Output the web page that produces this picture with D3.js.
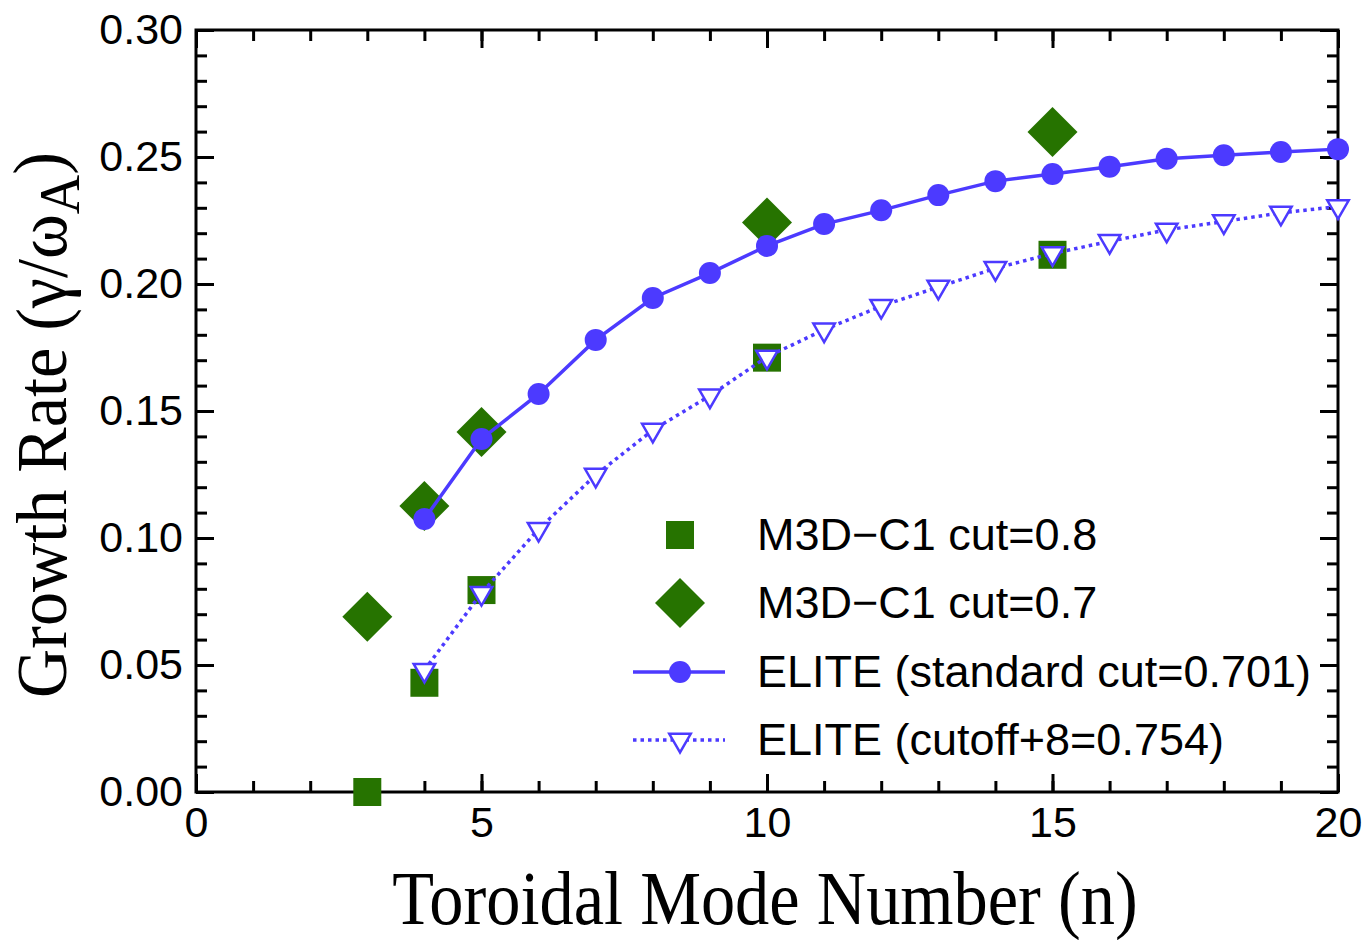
<!DOCTYPE html>
<html>
<head>
<meta charset="utf-8">
<script src="https://cdnjs.cloudflare.com/ajax/libs/d3/7.8.5/d3.min.js"></script>
<style>
  body { margin: 0; background: #fff; }
  svg { display: block; }
</style>
</head>
<body>
<script>
// data
var eliteN = [4, 5, 6, 7, 8, 9, 10, 11, 12, 13, 14, 15, 16, 17, 18, 19, 20];
var eliteStd = [0.1075, 0.139, 0.1567, 0.178, 0.1945, 0.2043, 0.215, 0.2236, 0.229, 0.235,
                0.2405, 0.2433, 0.2462, 0.2493, 0.2507, 0.252, 0.2531];
var eliteCut8 = [0.048, 0.0783, 0.1035, 0.1248, 0.1425, 0.156, 0.1713, 0.182, 0.1913, 0.1988,
                 0.2062, 0.212, 0.2168, 0.2213, 0.2246, 0.228, 0.2305];
var m3dN = [3, 4, 5, 10, 15];
var m3dCut08 = [0.0, 0.043, 0.0795, 0.171, 0.2115];
var m3dCut07 = [0.069, 0.1126, 0.1417, 0.2242, 0.2598];
var xTicks = [0, 5, 10, 15, 20];
var yTicks = [0, 0.05, 0.10, 0.15, 0.20, 0.25, 0.30];
var legendLabels = ["M3D\u2212C1 cut=0.8", "M3D\u2212C1 cut=0.7",
                    "ELITE (standard cut=0.701)", "ELITE (cutoff+8=0.754)"];

var W = 1368, H = 940;
var pLeft = 196, pRight = 1338, pTop = 30, pBottom = 792;
var green = "#267300", blue = "#4c3aff";

var svg = d3.select("body").append("svg")
    .attr("width", W)
    .attr("height", H);

var x = d3.scaleLinear().domain([0, 20]).range([pLeft, pRight]);
var y = d3.scaleLinear().domain([0, 0.30]).range([pBottom, pTop]);

var minorX = d3.range(0, 21, 1);
var minorY = d3.range(0, 31, 1).map(function(d) { return d / 100; });

function styleAxis(g) {
    g.select(".domain").remove();
    g.selectAll("line").attr("stroke", "#000").attr("stroke-width", 3);
    g.selectAll("text")
        .attr("fill", "#000")
        .style("font-family", "'Liberation Sans', Arial, Helvetica, sans-serif")
        .style("font-size", "43px");
}

// bottom
svg.append("g").attr("transform", "translate(0," + pBottom + ")")
    .call(d3.axisBottom(x).tickValues(minorX).tickSize(-11).tickFormat(""))
    .call(styleAxis);
svg.append("g").attr("transform", "translate(0," + pBottom + ")")
    .call(d3.axisBottom(x).tickValues(xTicks).tickSize(-18).tickPadding(14).tickFormat(d3.format("d")))
    .call(styleAxis);
// top
svg.append("g").attr("transform", "translate(0," + pTop + ")")
    .call(d3.axisTop(x).tickValues(minorX).tickSize(-11).tickFormat(""))
    .call(styleAxis);
svg.append("g").attr("transform", "translate(0," + pTop + ")")
    .call(d3.axisTop(x).tickValues(xTicks).tickSize(-18).tickFormat(""))
    .call(styleAxis);
// left
svg.append("g").attr("transform", "translate(" + pLeft + ",0)")
    .call(d3.axisLeft(y).tickValues(minorY).tickSize(-11).tickFormat(""))
    .call(styleAxis);
svg.append("g").attr("transform", "translate(" + pLeft + ",0)")
    .call(d3.axisLeft(y).tickValues(yTicks).tickSize(-18).tickPadding(13).tickFormat(d3.format(".2f")))
    .call(styleAxis);
// right
svg.append("g").attr("transform", "translate(" + pRight + ",0)")
    .call(d3.axisRight(y).tickValues(minorY).tickSize(-11).tickFormat(""))
    .call(styleAxis);
svg.append("g").attr("transform", "translate(" + pRight + ",0)")
    .call(d3.axisRight(y).tickValues(yTicks).tickSize(-18).tickFormat(""))
    .call(styleAxis);

svg.append("rect")
    .attr("x", pLeft).attr("y", pTop)
    .attr("width", pRight - pLeft).attr("height", pBottom - pTop)
    .attr("fill", "none").attr("stroke", "#000").attr("stroke-width", 3);

// axis titles (the original serif is narrower than Liberation Serif)
svg.append("text")
    .attr("transform", "translate(765,924) scale(0.9,1)")
    .attr("text-anchor", "middle")
    .style("font-family", "'Liberation Serif', 'Times New Roman', serif")
    .style("font-size", "76px")
    .text("Toroidal Mode Number (n)");

var yt = svg.append("text")
    .attr("transform", "translate(66,425) rotate(-90) scale(0.96,1)")
    .attr("text-anchor", "middle")
    .style("font-family", "'Liberation Serif', 'Times New Roman', serif")
    .style("font-size", "71px");
yt.append("tspan").text("Growth Rate (\u03b3/\u03c9");
yt.append("tspan").attr("dy", "0.22em").style("font-size", "57px").text("A");
yt.append("tspan").attr("dy", "-0.22em").text(")");

var squareSym = d3.symbol().type(d3.symbolSquare).size(784);
var diamondSym = d3.symbol().type(d3.symbolSquare).size(1250);
var triSym = d3.symbol().type(d3.symbolTriangle).size(200);

var plot = svg.append("g");

// M3D-C1 markers
plot.selectAll(".sq").data(m3dN).enter().append("path")
    .attr("d", squareSym)
    .attr("transform", function(d, i) { return "translate(" + x(d) + "," + y(m3dCut08[i]) + ")"; })
    .attr("fill", green);

plot.selectAll(".dm").data(m3dN).enter().append("path")
    .attr("d", diamondSym)
    .attr("transform", function(d, i) { return "translate(" + x(d) + "," + y(m3dCut07[i]) + ") rotate(45)"; })
    .attr("fill", green);

// ELITE lines
var line = d3.line()
    .x(function(d) { return x(d[0]); })
    .y(function(d) { return y(d[1]); });

plot.append("path")
    .datum(eliteN.map(function(n, i) { return [n, eliteCut8[i]]; }))
    .attr("d", line)
    .attr("fill", "none")
    .attr("stroke", blue)
    .attr("stroke-width", 3.5)
    .attr("stroke-dasharray", "3.5,4");

plot.append("path")
    .datum(eliteN.map(function(n, i) { return [n, eliteStd[i]]; }))
    .attr("d", line)
    .attr("fill", "none")
    .attr("stroke", blue)
    .attr("stroke-width", 3.5);

plot.selectAll(".ci").data(eliteN).enter().append("circle")
    .attr("cx", function(d) { return x(d); })
    .attr("cy", function(d, i) { return y(eliteStd[i]); })
    .attr("r", 11)
    .attr("fill", blue);

plot.selectAll(".tr").data(eliteN).enter().append("path")
    .attr("d", triSym)
    .attr("transform", function(d, i) { return "translate(" + x(d) + "," + y(eliteCut8[i]) + ") rotate(180)"; })
    .attr("fill", "#fff")
    .attr("stroke", blue)
    .attr("stroke-width", 2.5);

// legend
var legY = [535, 603, 672, 740];
var legX = 680;
var leg = svg.append("g");

leg.append("path").attr("d", squareSym)
    .attr("transform", "translate(" + legX + "," + legY[0] + ")").attr("fill", green);
leg.append("path").attr("d", diamondSym)
    .attr("transform", "translate(" + legX + "," + legY[1] + ") rotate(45)").attr("fill", green);
leg.append("line").attr("x1", 633).attr("x2", 725).attr("y1", legY[2]).attr("y2", legY[2])
    .attr("stroke", blue).attr("stroke-width", 3.5);
leg.append("circle").attr("cx", legX).attr("cy", legY[2]).attr("r", 11).attr("fill", blue);
leg.append("line").attr("x1", 633).attr("x2", 725).attr("y1", legY[3]).attr("y2", legY[3])
    .attr("stroke", blue).attr("stroke-width", 3.5).attr("stroke-dasharray", "3.5,4");
leg.append("path").attr("d", triSym)
    .attr("transform", "translate(" + legX + "," + legY[3] + ") rotate(180)")
    .attr("fill", "#fff").attr("stroke", blue).attr("stroke-width", 2.5);

leg.selectAll("text").data(legendLabels).enter().append("text")
    .attr("x", 757)
    .attr("y", function(d, i) { return legY[i] + 15; })
    .style("font-family", "'Liberation Sans', Arial, Helvetica, sans-serif")
    .style("font-size", "45px")
    .text(function(d) { return d; });
</script>
</body>
</html>
